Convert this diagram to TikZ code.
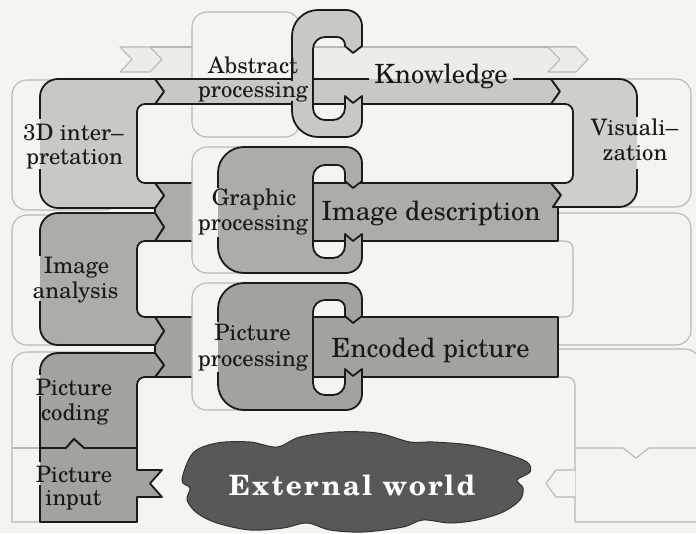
\documentclass[tikz,border=0pt]{standalone}
\usepackage{fontspec}
\setmainfont{TeX Gyre Schola}
\definecolor{paper}{RGB}{244,245,241}
\definecolor{inkc}{RGB}{30,26,26}
\definecolor{ghostc}{RGB}{184,185,181}
\definecolor{haze}{RGB}{236,237,233}
\definecolor{toneA}{RGB}{200,201,197}
\definecolor{toneV}{RGB}{206,207,203}
\definecolor{toneB}{RGB}{172,172,169}
\definecolor{toneC}{RGB}{162,162,159}
\definecolor{cloudc}{RGB}{88,88,86}
\definecolor{cloudedge}{RGB}{50,50,48}
\definecolor{textc}{RGB}{28,24,24}
\begin{document}
\begin{tikzpicture}[x=1pt,y=-1pt,
  ink/.style={draw=inkc,line width=1.8pt,line join=round},
  ghost/.style={draw=ghostc,line width=1.1pt,line join=round},
  proclabel/.style={font=\fontsize{22.7}{24}\selectfont,inner sep=0pt,anchor=base,text=textc},
  datalabel/.style={font=\fontsize{26.5}{28}\selectfont,inner sep=0pt,anchor=base,text=textc},
]
\useasboundingbox (0,0) rectangle (696,533);
\fill[paper] (0,0) rectangle (696,533);

% ---------- faint background layer ----------
% upper band with ribbon ends
\fill[haze] (150,47) rectangle (576,79);
\draw[ghost] (150,47) -- (576,47);
\draw[ghost,fill=haze] (120,47) -- (150,47) -- (162,59.5) -- (150,72) -- (120,72) -- (132,59.5) -- cycle;
\draw[ghost,fill=haze] (548,47) -- (576,47) -- (588,59.5) -- (576,72) -- (548,72) -- (560,59.5) -- cycle;

% left column boxes
\draw[ghost,fill=paper,rounded corners=15pt] (12,80) rectangle (120,210);
\draw[ghost,fill=paper,rounded corners=15pt] (12,215) rectangle (120,345);
\draw[ghost,fill=paper] (120,352) -- (27,352) arc[start angle=270,end angle=180,radius=15]
  -- (12,522) -- (120,522) -- cycle;
\draw[ghost] (12,448) -- (40,448);

% top middle box
\draw[ghost,fill=paper,rounded corners=15pt] (192,12) rectangle (300,137);

% right column shapes
\draw[ghost,fill=paper] (600,79) -- (676,79) arc[start angle=270,end angle=360,radius=15]
  -- (691,192) arc[start angle=0,end angle=90,radius=15] -- (600,207) -- cycle;
\draw[ghost,fill=paper] (558,213) -- (676,213) arc[start angle=270,end angle=360,radius=15]
  -- (691,330) arc[start angle=0,end angle=90,radius=15] -- (558,345) -- (558,317)
  -- (565,317) arc[start angle=90,end angle=0,radius=8]
  -- (573,249) arc[start angle=0,end angle=-90,radius=8] -- (558,241) -- cycle;
\draw[ghost,fill=paper] (558,349) -- (685,349) arc[start angle=270,end angle=360,radius=15]
  -- (700,522) -- (575,522) -- (575,385) arc[start angle=0,end angle=-90,radius=8]
  -- (558,377) -- cycle;
\draw[ghost] (575,448) -- (623,448) -- (636,458) -- (649,448) -- (700,448);
\draw[ghost,fill=paper] (575,470) -- (556,470) -- (546,483.5) -- (556,497) -- (575,497);

% ---------- data bands ----------
\fill[toneA] (155,79) -- (551,79) -- (560,91.5) -- (551,104) -- (155,104) -- (164,91.5) -- cycle;
\draw[ink] (513,79) -- (551,79) -- (560,91.5) -- (551,104) -- (155,104) -- (164,91.5) -- (155,79) -- (369,79);

\filldraw[ink,fill=toneB] (155,183) -- (551,183) -- (561,195) -- (553,207) -- (558,207) -- (558,241)
  -- (155,241) -- (164,227) -- (155,213) -- (155,208) -- (164,195.5) -- cycle;

\filldraw[ink,fill=toneC] (155,317) -- (558,317) -- (558,377) -- (155,377) -- (164,365)
  -- (155,353) -- (155,345) -- (164,331) -- cycle;

% middle boxes of the lower rows
\draw[ghost,fill=paper,rounded corners=15pt] (192,147) rectangle (300,273);
\draw[ghost,fill=paper,rounded corners=15pt] (192,283) rectangle (300,410);

% ---------- left processing shapes ----------
\filldraw[ink,fill=toneA] (155,79) -- (58,79) arc[start angle=270,end angle=180,radius=18]
  -- (40,190) arc[start angle=180,end angle=90,radius=18]
  -- (155,208) -- (164,195.5) -- (155,183)
  -- (145,183) arc[start angle=90,end angle=180,radius=8]
  -- (137,112) arc[start angle=180,end angle=270,radius=8]
  -- (155,104) -- (164,91.5) -- cycle;

\filldraw[ink,fill=toneB] (155,213) -- (58,213) arc[start angle=270,end angle=180,radius=18]
  -- (40,327) arc[start angle=180,end angle=90,radius=18]
  -- (155,345) -- (164,331) -- (155,317)
  -- (145,317) arc[start angle=90,end angle=180,radius=8]
  -- (137,249) arc[start angle=180,end angle=270,radius=8]
  -- (155,241) -- (164,227) -- cycle;

\filldraw[ink,fill=toneC] (155,353) -- (58,353) arc[start angle=270,end angle=180,radius=18]
  -- (40,448) -- (66,448) -- (74,439) -- (84,448) -- (137,448)
  -- (137,385) arc[start angle=180,end angle=270,radius=8]
  -- (155,377) -- (164,365) -- cycle;

\filldraw[ink,fill=toneC] (40,448) -- (66,448) -- (74,439) -- (84,448) -- (137,448)
  -- (137,470) -- (162,470) -- (150,483.5) -- (162,497) -- (137,497)
  -- (137,522) -- (40,522) -- cycle;

% ---------- right processing shape ----------
\filldraw[ink,fill=toneV] (551,79) -- (619,79) arc[start angle=270,end angle=360,radius=18]
  -- (637,189) arc[start angle=0,end angle=90,radius=18]
  -- (553,207) -- (561,195) -- (551,183)
  -- (565,183) arc[start angle=90,end angle=0,radius=8]
  -- (573,112) arc[start angle=0,end angle=-90,radius=8]
  -- (551,104) -- (560,91.5) -- cycle;

% ---------- middle hooks ----------
% #1 left x, #2 top, #3 inner top, #4 upper arm end, #5 upper tip,
% #6 lower notch edge, #7 lower notch dip, #8 inner bottom, #9 bottom
\newcommand\hookpath[9]{%
  (353,#5) -- (362,#4) -- (362,#2+16) arc[start angle=0,end angle=-90,radius=16]
  -- (#1+26,#2) arc[start angle=270,end angle=180,radius=26]
  -- (#1,#9-26) arc[start angle=180,end angle=90,radius=26]
  -- (346,#9) arc[start angle=90,end angle=0,radius=16]
  -- (362,#6) -- (353,#7) -- (345,#6)
  -- (345,#8-12) arc[start angle=0,end angle=90,radius=12]
  -- (325,#8) arc[start angle=90,end angle=180,radius=12]
  -- (313,#3+12) arc[start angle=180,end angle=270,radius=12]
  -- (337,#3) arc[start angle=270,end angle=360,radius=8]
  -- (345,#4) -- cycle}
\filldraw[ink,fill=toneA] \hookpath{292}{10}{37}{46}{53}{96}{103}{120}{137};
\filldraw[ink,fill=toneB] \hookpath{218}{147}{165}{181}{188}{234}{241}{258}{273};
\filldraw[ink,fill=toneC] \hookpath{218}{283}{300}{316}{323}{369}{376}{395}{410};

% ---------- outer world ----------
\filldraw[draw=cloudedge,line width=1pt,fill=cloudc] plot[smooth cycle,tension=0.55] coordinates {
  (182,480) (193,453) (217,443) (250,442) (277,447) (300,437) (337,432) (377,433)
  (410,442) (433,442) (470,445) (503,453) (527,462) (530,472) (517,480) (523,488)
  (520,500) (503,512) (477,520) (450,523) (423,520) (403,527) (363,532) (330,530)
  (307,523) (283,528) (250,530) (217,523) (197,513) (187,500) (190,488)};

% ---------- openings in outlines behind labels ----------
\fill[toneA] (290.5,81) rectangle (293.5,101);
\fill[paper] (38.2,119) rectangle (40,169);   \fill[toneA] (40,119) rectangle (41.8,169);
\fill[toneV] (635.2,117) rectangle (637,169); \fill[paper] (637,117) rectangle (638.8,169);
\fill[paper] (216.2,188) rectangle (218,237); \fill[toneB] (218,188) rectangle (219.8,237);
\fill[paper] (216.2,322) rectangle (218,372); \fill[toneC] (218,322) rectangle (219.8,372);
\fill[paper] (38.2,256) rectangle (40,301);   \fill[toneB] (40,256) rectangle (41.8,301);
\fill[paper] (38.2,375) rectangle (40,396);   \fill[toneC] (40,375) rectangle (41.8,396);
\fill[paper] (38.2,462) rectangle (40,485);   \fill[toneC] (40,462) rectangle (41.8,485);

% ---------- labels ----------
\node[proclabel] (abs1) at (253,73) {Abstract};
\node[proclabel] (abs2) at (253,97) {processing};
\node[datalabel] (know) at (441,83) {Knowledge};
\node[proclabel] (int1) at (73.5,140) {3D inter–};
\node[proclabel] (int2) at (74.5,164) {pretation};
\node[proclabel] (vis1) at (634.5,135) {Visuali–};
\node[proclabel] (vis2) at (635,160) {zation};
\node[proclabel] (gra1) at (254,205) {Graphic};
\node[proclabel] (gra2) at (253,230) {processing};
\node[datalabel] (desc) at (431,220) {Image description};
\node[proclabel] (ana1) at (76.5,273) {Image};
\node[proclabel] (ana2) at (75.5,298) {analysis};
\node[proclabel] (pic1) at (252.5,340) {Picture};
\node[proclabel] (pic2) at (253,366) {processing};
\node[datalabel] (enc) at (430.5,357) {Encoded picture};
\node[proclabel] (cod1) at (74,395) {Picture};
\node[proclabel] (cod2) at (75,420) {coding};
\node[proclabel] (inp1) at (74,482) {Picture};
\node[proclabel] (inp2) at (73.5,505) {input};
\node[font=\fontsize{28}{30}\selectfont\bfseries\addfontfeatures{LetterSpace=8},
  text=white!92!paper,inner sep=0pt,anchor=base] (world) at (352,495) {External world};
\end{tikzpicture}
\end{document}
